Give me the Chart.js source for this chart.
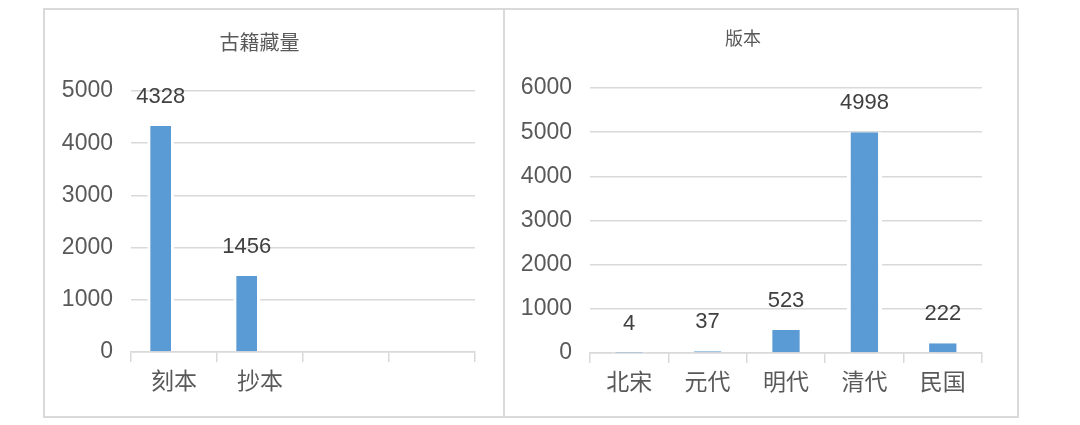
<!DOCTYPE html>
<html>
<head>
<meta charset="utf-8">
<script src="https://cdn.jsdelivr.net/npm/chart.js@4/dist/chart.umd.min.js"></script>
<style>
  body { margin: 0; background: #fff; }
  .wrap { position: absolute; }
  .frame { position: absolute; border: 2px solid #d9d9d9; box-sizing: border-box; pointer-events: none; }
</style>
</head>
<body>
<div class="wrap" style="left:44px;top:8px;width:460px;height:409px;"><canvas id="left"></canvas></div>
<div class="wrap" style="left:504px;top:8px;width:513px;height:409px;"><canvas id="right"></canvas></div>
<div class="frame" style="left:43px;top:8px;width:462px;height:410px;"></div>
<div class="frame" style="left:503px;top:8px;width:516px;height:410px;"></div>
<script>
// Data
const holdingsTitle = '古籍藏量';
const holdingsLabels = ['刻本', '抄本', '', ''];
const holdingsValues = [4328, 1456, null, null];
const holdingsEmpty = [null, null, null, null]; // empty second series in the source sheet
const holdingsTicks = [0, 1000, 2000, 3000, 4000, 5000];

const editionTitle = '版本';
const editionLabels = ['北宋', '元代', '明代', '清代', '民国'];
const editionValues = [4, 37, 523, 4998, 222];
const editionTicks = [0, 1000, 2000, 3000, 4000, 5000, 6000];

const FONT = '"Liberation Sans", "Noto Sans CJK SC", sans-serif';
const TEXT = '#595959';
const GRID = '#d9d9d9';
const BAR = '#5b9bd5';

// value labels above the bars (first series only)
const valueLabels = {
  id: 'valueLabels',
  afterDatasetsDraw(chart) {
    const ctx = chart.ctx;
    const meta = chart.getDatasetMeta(0);
    const data = chart.data.datasets[0].data;
    ctx.save();
    ctx.font = '22px ' + FONT;
    ctx.fillStyle = '#404040';
    ctx.textAlign = 'center';
    ctx.textBaseline = 'middle';
    meta.data.forEach((bar, i) => {
      if (data[i] == null) return;
      ctx.fillText(String(data[i]), bar.x, bar.y - 29);
    });
    ctx.restore();
  }
};

function makeChart(id, opts) {
  const ctx = document.getElementById(id).getContext('2d');
  const datasets = opts.series.map(values => ({
    data: values,
    backgroundColor: BAR,
    borderColor: '#ffffff',
    borderWidth: { left: opts.edge, right: opts.edge, top: 0, bottom: 0 },
    borderSkipped: false,
    barPercentage: opts.barPct,
    categoryPercentage: opts.catPct
  }));
  return new Chart(ctx, {
    type: 'bar',
    data: { labels: opts.labels, datasets: datasets },
    options: {
      responsive: true,
      maintainAspectRatio: false,
      animation: false,
      layout: { padding: { left: 0, right: opts.padRight, top: 0, bottom: 0 } },
      plugins: {
        legend: { display: false },
        tooltip: { enabled: false },
        title: {
          display: true,
          text: opts.title,
          color: TEXT,
          font: { family: FONT, size: opts.titleSize, weight: 'normal', lineHeight: 1.2 },
          padding: { top: opts.titleTop, bottom: opts.titleBottom }
        }
      },
      scales: {
        x: {
          z: 1,
          grid: {
            offset: true,
            drawOnChartArea: false,
            drawTicks: true,
            tickLength: 10,
            color: GRID,
            lineWidth: 1.5
          },
          border: { display: true, color: GRID, width: 1.5 },
          ticks: { color: TEXT, font: { family: FONT, size: 23 }, padding: 7 },
          afterFit(scale) { scale.height = opts.xHeight; }
        },
        y: {
          min: 0,
          max: opts.ticks[opts.ticks.length - 1],
          afterBuildTicks(scale) { scale.ticks = opts.ticks.map(v => ({ value: v })); },
          grid: { color: GRID, lineWidth: 1.5, drawTicks: false },
          border: { display: false },
          ticks: {
            color: TEXT,
            font: { family: FONT, size: 23 },
            padding: 18,
            callback: v => String(v)
          },
          afterFit(scale) { scale.width = opts.yWidth; }
        }
      }
    },
    plugins: [valueLabels]
  });
}

makeChart('left', {
  labels: holdingsLabels, series: [holdingsValues, holdingsEmpty], ticks: holdingsTicks, title: holdingsTitle,
  titleSize: 20, titleTop: 24, titleBottom: 35, yWidth: 87, xHeight: 65, padRight: 29,
  barPct: 1, catPct: 0.62, edge: 3
});

makeChart('right', {
  labels: editionLabels, series: [editionValues], ticks: editionTicks, title: editionTitle,
  titleSize: 18, titleTop: 21, titleBottom: 37.4, yWidth: 86, xHeight: 64, padRight: 35,
  barPct: 0.45, catPct: 1, edge: 4
});
</script>
</body>
</html>
